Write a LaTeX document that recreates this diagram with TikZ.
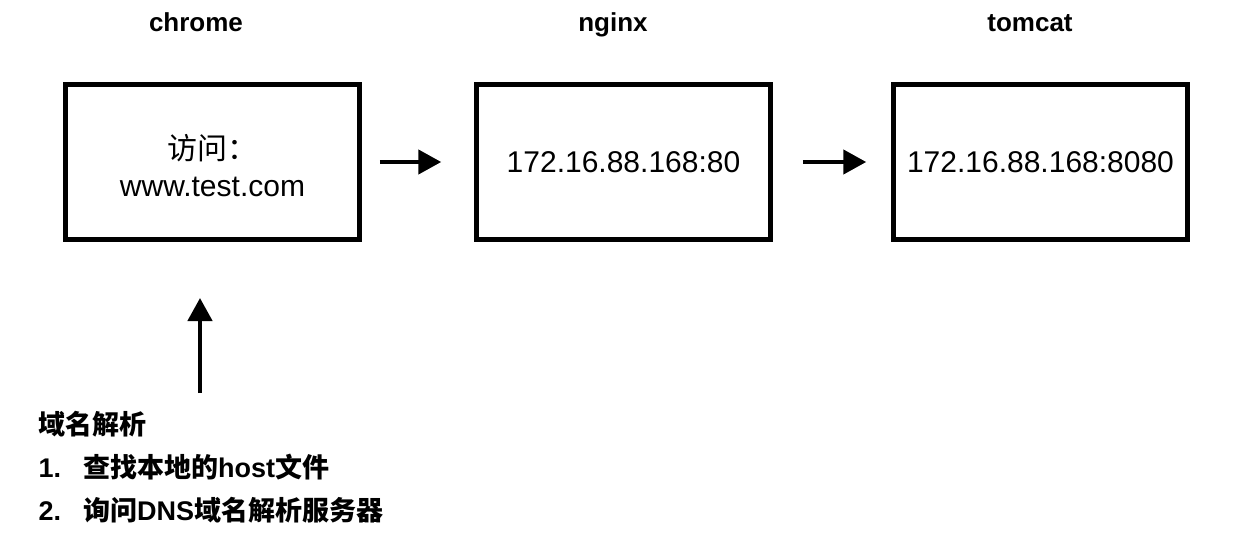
\documentclass[tikz,border=0pt]{standalone}
\usepackage{fontspec}
\setmainfont{Liberation Sans}
\newfontfamily\cjk{Noto Sans CJK SC}
\usetikzlibrary{arrows.meta}
\tikzset{
    server/.style={draw,line width=4.5pt,minimum width=294pt,minimum height=155pt,
        align=center,font=\fontsize{30}{37}\selectfont},
    title/.style={anchor=base,font=\fontsize{26}{30}\selectfont\bfseries},
    step line/.style={anchor=base west,font=\fontsize{27}{32}\selectfont\bfseries},
    arr/.style={line width=4.5pt,-{Triangle[length=23pt,width=24pt]}}
}
\begin{document}
\begin{tikzpicture}[x=1pt,y=-1pt]
    \useasboundingbox (0,0) rectangle (1248,542);
    %% servers
    \node[server] (chrome) at (212.5,162) {\rule{0pt}{32pt}{\cjk 访问：}\\www.test.com};
    \node[server] (nginx) at (623.5,162) {172.16.88.168:80};
    \node[server] (tomcat) at (1040.5,162) {172.16.88.168:8080};
    \node[title] (chromet) at (196,31) {chrome};
    \node[title] (nginxt) at (613,31) {nginx};
    \node[title] (tomcatt) at (1030,31) {tomcat};
    %% requests
    \draw[arr,shorten <=18pt,shorten >=33pt] (chrome) -- (nginx);
    \draw[arr,shorten <=30pt,shorten >=25pt] (nginx) -- (tomcat);
    %% dns
    \node[step line] (dns) at (35,434) {\cjk 域名解析};
    \node[step line] (hosts) at (35,477) {1.\hspace{22pt}{\cjk 查找本地的}host{\cjk 文件}};
    \node[step line] (ask) at (35,520) {2.\hspace{22pt}{\cjk 询问}DNS{\cjk 域名解析服务器}};
    \coordinate (dnsup) at (200,393);
    \coordinate (dnstip) at (200,298);
    \draw[arr] (dnsup) -- (dnstip);
\end{tikzpicture}
\end{document}
